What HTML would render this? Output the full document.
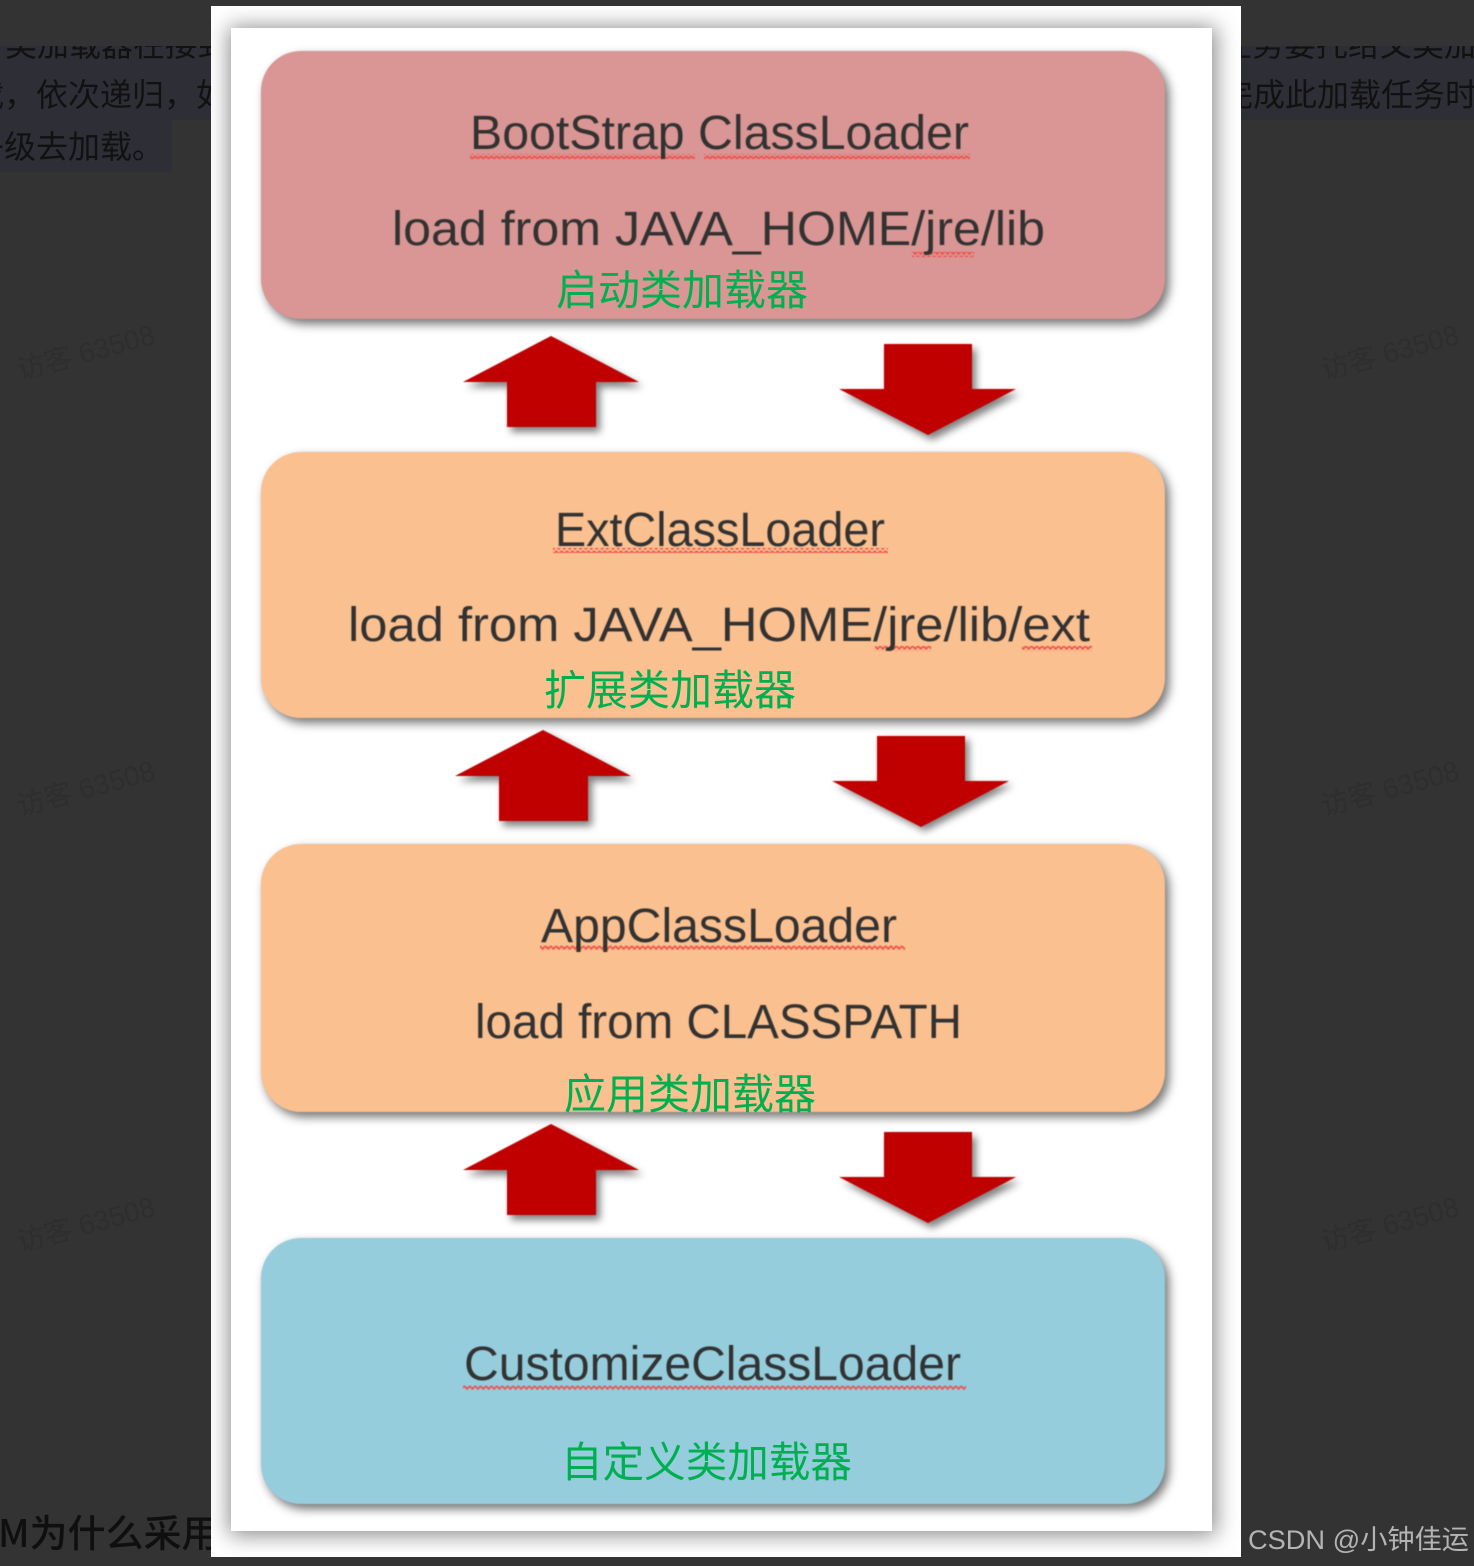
<!DOCTYPE html>
<html>
<head>
<meta charset="utf-8">
<style>
html,body{margin:0;padding:0;background:#333;width:1474px;height:1566px;overflow:hidden}
svg{display:block}
text{font-family:"Liberation Sans","Noto Sans CJK SC",sans-serif}
.bg{font-family:"Noto Sans CJK SC",sans-serif;font-size:32px;fill:#111}
.wm{font-family:"Liberation Sans","Noto Sans CJK SC",sans-serif;font-size:28px;fill:#2e2e2e}
.t{font-size:48px;fill:#333;font-family:"Liberation Sans","Noto Sans CJK SC",sans-serif}
.c{font-size:42px;fill:#00b050;font-family:"Noto Sans CJK SC",sans-serif}
</style>
</head>
<body>
<svg width="1474" height="1566" viewBox="0 0 1474 1566" xmlns="http://www.w3.org/2000/svg">
<defs>
<filter id="page" x="-10%" y="-10%" width="120%" height="120%"><feGaussianBlur stdDeviation="11"/></filter>
<filter id="boxs" x="-5%" y="-10%" width="110%" height="120%"><feGaussianBlur stdDeviation="5"/></filter>
<filter id="arrs" x="-30%" y="-30%" width="160%" height="160%"><feGaussianBlur stdDeviation="4"/></filter>
<filter id="soft" x="-5%" y="-20%" width="110%" height="140%"><feGaussianBlur stdDeviation="0.6"/></filter>
<filter id="soft2" x="-5%" y="-5%" width="110%" height="110%"><feGaussianBlur stdDeviation="0.5"/></filter>
<pattern id="wavy" width="5.4" height="5" patternUnits="userSpaceOnUse">
<path d="M0 1 L2.7 4 L5.4 1" fill="none" stroke="#f0504c" stroke-width="1.7"/>
</pattern>
<clipPath id="outer"><rect x="211" y="6" width="1030" height="1551"/></clipPath>
<g id="up"><path d="M0 0 L88 46 L45 46 L45 91 L-44 91 L-44 46 L-88 46 Z"/></g>
<g id="down"><path d="M-44 0 L44 0 L44 45 L88 45 L0 91 L-89 45 L-44 45 Z"/></g>
</defs>

<!-- dark background -->
<rect width="1474" height="1566" fill="#333"/>
<rect x="0" y="46" width="1474" height="74" fill="#2e2f36"/>
<rect x="0" y="120" width="172" height="52" fill="#2e2f36"/>

<!-- background article text -->
<clipPath id="line1"><rect x="0" y="46" width="1474" height="20"/></clipPath>
<g clip-path="url(#line1)">
<text class="bg" x="5" y="56">类加载器在接到</text>
<text class="bg" x="1220" y="56">任务要托给父类加</text>
</g>
<text class="bg" x="-28" y="106">载，依次递归，如</text>
<text class="bg" x="1221" y="106">完成此加载任务时</text>
<text class="bg" x="-28" y="158">子级去加载。</text>
<text x="-2" y="1547" font-size="38" font-weight="500" style="font-family:'Noto Sans CJK SC',sans-serif" fill="#0f0f0f">M为什么采用</text>

<!-- watermarks -->
<text class="wm" transform="translate(20 380) rotate(-15)">访客 63508</text>
<text class="wm" transform="translate(1324 380) rotate(-15)">访客 63508</text>
<text class="wm" transform="translate(20 816) rotate(-15)">访客 63508</text>
<text class="wm" transform="translate(1324 816) rotate(-15)">访客 63508</text>
<text class="wm" transform="translate(20 1252) rotate(-15)">访客 63508</text>
<text class="wm" transform="translate(1324 1252) rotate(-15)">访客 63508</text>

<!-- white outer image -->
<rect x="211" y="6" width="1030" height="1551" fill="#fff"/>
<g clip-path="url(#outer)">
<rect x="229" y="27" width="987" height="1508" fill="#8a8a8a" filter="url(#page)"/>
</g>
<rect x="231" y="28" width="981" height="1503" fill="#fff"/>

<!-- box shadows -->
<g fill="#000" fill-opacity=".55" filter="url(#boxs)">
<rect x="265" y="56" width="904" height="268" rx="40"/>
<rect x="265" y="457" width="904" height="266" rx="40"/>
<rect x="265" y="849" width="904" height="268" rx="40"/>
<rect x="265" y="1243" width="904" height="266" rx="40"/>
</g>
<!-- boxes -->
<g filter="url(#soft2)">
<rect x="261" y="51" width="904" height="268" rx="40" fill="#d99694"/>
<rect x="261" y="452" width="904" height="266" rx="40" fill="#fac090"/>
<rect x="261" y="844" width="904" height="268" rx="40" fill="#fac090"/>
<rect x="261" y="1238" width="904" height="266" rx="40" fill="#95cddd"/>
</g>

<!-- arrow shadows -->
<g fill="#000" fill-opacity=".5" filter="url(#arrs)">
<use href="#up" x="555" y="341"/>
<use href="#down" x="932" y="349"/>
<use href="#up" x="547" y="735"/>
<use href="#down" x="925" y="740"/>
<use href="#up" x="555" y="1129"/>
<use href="#down" x="932" y="1137"/>
</g>
<!-- arrows -->
<g fill="#c00000" filter="url(#soft2)">
<use href="#up" x="551" y="336"/>
<use href="#down" x="928" y="344"/>
<use href="#up" x="543" y="730"/>
<use href="#down" x="921" y="736"/>
<use href="#up" x="551" y="1124"/>
<use href="#down" x="928" y="1132"/>
</g>

<!-- spellcheck squiggles -->
<g fill="url(#wavy)" filter="url(#soft2)">
<rect x="470" y="154" width="225" height="5"/>
<rect x="704" y="154" width="266" height="5"/>
<rect x="912" y="252" width="62" height="5"/>
<rect x="553" y="548" width="335" height="5"/>
<rect x="875" y="646" width="56" height="5"/>
<rect x="1022" y="646" width="70" height="5"/>
<rect x="540" y="945" width="365" height="5"/>
<rect x="463" y="1385" width="503" height="5"/>
</g>

<!-- labels -->
<g filter="url(#soft)">
<text class="t" x="470" y="149" textLength="499" lengthAdjust="spacingAndGlyphs">BootStrap ClassLoader</text>
<text class="t" x="392" y="245" textLength="653" lengthAdjust="spacingAndGlyphs">load from JAVA_HOME/jre/lib</text>
<text class="t" x="555" y="546" textLength="330" lengthAdjust="spacingAndGlyphs">ExtClassLoader</text>
<text class="t" x="348" y="641" textLength="742" lengthAdjust="spacingAndGlyphs">load from JAVA_HOME/jre/lib/ext</text>
<text class="t" x="541" y="942" textLength="356" lengthAdjust="spacingAndGlyphs">AppClassLoader</text>
<text class="t" x="475" y="1038" textLength="487" lengthAdjust="spacingAndGlyphs">load from CLASSPATH</text>
<text class="t" x="464" y="1380" textLength="497" lengthAdjust="spacingAndGlyphs">CustomizeClassLoader</text>
</g>
<text class="c" x="556" y="305" textLength="252" lengthAdjust="spacingAndGlyphs">启动类加载器</text>
<text class="c" x="544" y="705" textLength="252" lengthAdjust="spacingAndGlyphs">扩展类加载器</text>
<text class="c" x="564" y="1109" textLength="252" lengthAdjust="spacingAndGlyphs">应用类加载器</text>
<text class="c" x="561" y="1477" textLength="291" lengthAdjust="spacingAndGlyphs">自定义类加载器</text>

<!-- CSDN watermark -->
<text x="1248" y="1549" font-size="27" fill="#b4b4b4" textLength="221" lengthAdjust="spacingAndGlyphs">CSDN @小钟佳运</text>
</svg>
</body>
</html>
